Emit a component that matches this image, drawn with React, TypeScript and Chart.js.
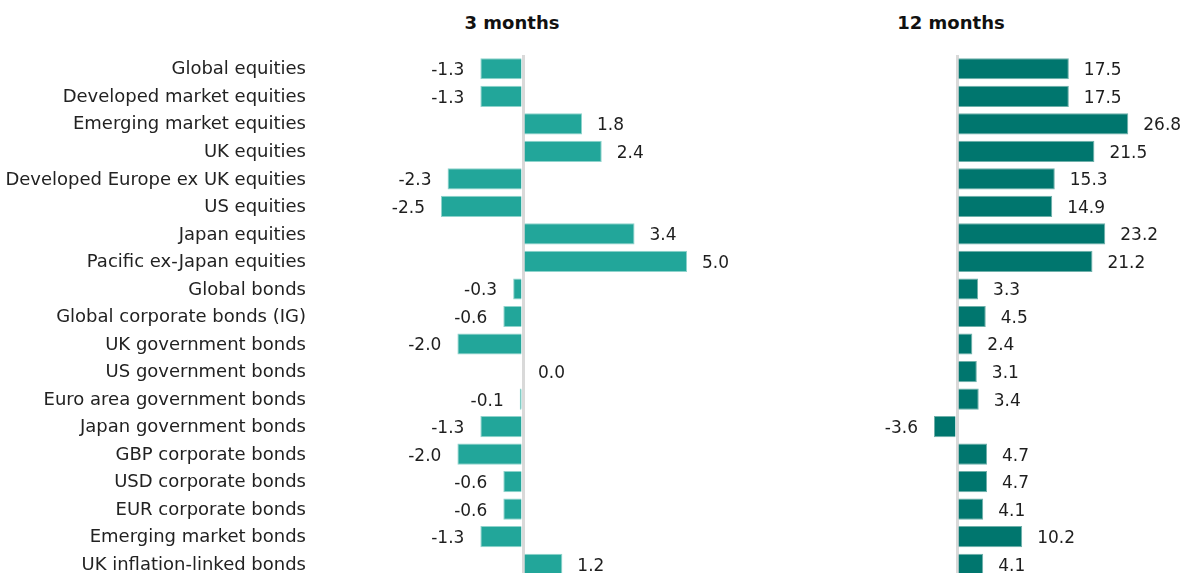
import React, { useEffect, useRef } from "react";
import { Chart, registerables } from "chart.js";

Chart.register(...registerables);

const categories = [
  "Global equities",
  "Developed market equities",
  "Emerging market equities",
  "UK equities",
  "Developed Europe ex UK equities",
  "US equities",
  "Japan equities",
  "Pacific ex-Japan equities",
  "Global bonds",
  "Global corporate bonds (IG)",
  "UK government bonds",
  "US government bonds",
  "Euro area government bonds",
  "Japan government bonds",
  "GBP corporate bonds",
  "USD corporate bonds",
  "EUR corporate bonds",
  "Emerging market bonds",
  "UK inflation-linked bonds",
];

const threeMonths = [-1.3, -1.3, 1.8, 2.4, -2.3, -2.5, 3.4, 5.0, -0.3, -0.6, -2.0, 0.0, -0.1, -1.3, -2.0, -0.6, -0.6, -1.3, 1.2];
const twelveMonths = [17.5, 17.5, 26.8, 21.5, 15.3, 14.9, 23.2, 21.2, 3.3, 4.5, 2.4, 3.1, 3.4, -3.6, 4.7, 4.7, 4.1, 10.2, 4.1];

const titles = ["3 months", "12 months"];

const FONT = "'DejaVu Sans', sans-serif";

const valueLabels = {
  id: "valueLabels",
  afterDatasetsDraw(chart: any) {
    const ctx = chart.ctx;
    const meta = chart.getDatasetMeta(0);
    const data = chart.data.datasets[0].data as number[];
    ctx.save();
    ctx.font = `17px ${FONT}`;
    ctx.fillStyle = "#1e1e1e";
    ctx.textBaseline = "middle";
    meta.data.forEach((bar: any, i: number) => {
      const v = data[i];
      if (v >= 0) {
        ctx.textAlign = "left";
        ctx.fillText(v.toFixed(1), bar.x + 15, bar.y + 2);
      } else {
        ctx.textAlign = "right";
        ctx.fillText(v.toFixed(1), bar.x - 16, bar.y + 2);
      }
    });
    ctx.restore();
  },
};

function makeConfig(values: number[], color: string, border: string, min: number, max: number, showLabels: boolean, padLeft: number): any {
  return {
    type: "bar",
    data: {
      labels: categories,
      datasets: [
        {
          data: values,
          backgroundColor: color,
          borderColor: border,
          borderWidth: 1,
          borderSkipped: "start",
          barPercentage: 0.77,
          categoryPercentage: 1,
        },
      ],
    },
    options: {
      indexAxis: "y",
      responsive: false,
      animation: false,
      devicePixelRatio: 1,
      layout: { autoPadding: false, padding: { top: 55, left: padLeft, right: 0, bottom: 0 } },
      plugins: {
        legend: { display: false },
        tooltip: { enabled: false },
        title: { display: false },
      },
      scales: {
        x: {
          min,
          max,
          ticks: { display: false, stepSize: 1 },
          border: { display: false },
          grid: {
            drawTicks: false,
            color: (c: any) => (c.tick && c.tick.value === 0 ? "#d9d9d9" : "rgba(0,0,0,0)"),
            lineWidth: (c: any) => (c.tick && c.tick.value === 0 ? 3 : 0),
          },
        },
        y: {
          display: showLabels,
          border: { display: false },
          grid: { display: false, drawTicks: false },
          ticks: {
            padding: 12,
            labelOffset: 1,
            color: "#222222",
            font: { family: FONT, size: 18 },
            autoSkip: false,
          },
          afterFit: (scale: any) => {
            if (showLabels) scale.width = 318;
            scale.paddingTop = 0;
            scale.paddingBottom = 0;
          },
        },
      },
    },
    plugins: [valueLabels],
  };
}

export default function App() {
  const ref1 = useRef<HTMLCanvasElement>(null);
  const ref2 = useRef<HTMLCanvasElement>(null);

  useEffect(() => {
    const c1 = new Chart(ref1.current!, makeConfig(threeMonths, "#22a69a", "#8fd3cc", -6.25, 6.92, true, 0));
    const c2 = new Chart(ref2.current!, makeConfig(twelveMonths, "#00766e", "#6fb0aa", -12.05, 35.21, false, 130));
    return () => {
      c1.destroy();
      c2.destroy();
    };
  }, []);

  const titleStyle: React.CSSProperties = {
    position: "absolute",
    top: 11,
    width: 200,
    textAlign: "center",
    fontFamily: FONT,
    fontWeight: 700,
    fontSize: 18,
    color: "#111",
    lineHeight: "24px",
  };

  return (
    <div style={{ position: "absolute", left: 0, top: 0, width: 1182, height: 573, overflow: "hidden", background: "#fff" }}>
      <div style={{ ...titleStyle, left: 412 }}>{titles[0]}</div>
      <div style={{ ...titleStyle, left: 851 }}>{titles[1]}</div>
      <canvas ref={ref1} width={750} height={578} style={{ position: "absolute", left: 0, top: 0 }} />
      <canvas ref={ref2} width={432} height={578} style={{ position: "absolute", left: 750, top: 0 }} />
    </div>
  );
}
